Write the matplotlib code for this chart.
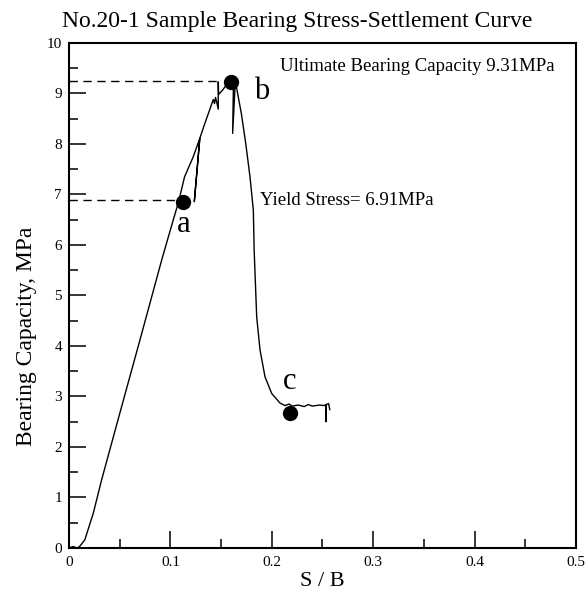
import matplotlib
matplotlib.use("Agg")
import matplotlib.pyplot as plt
from matplotlib.ticker import MultipleLocator

plt.rcParams['font.family'] = ['Liberation Serif', 'DejaVu Serif']

# S/B and bearing stress (MPa)
sb = [0.000, 0.004, 0.008, 0.0105, 0.0156, 0.024, 0.0322, 0.050, 0.070, 0.0914,
      0.100, 0.108, 0.114, 0.1226, 0.1290, 0.1236, 0.1290, 0.1330, 0.1423, 0.1435,
      0.1445, 0.1458, 0.1472, 0.1472, 0.1476, 0.1520, 0.1555, 0.1598, 0.1622, 0.1614,
      0.1637, 0.1654, 0.1700, 0.1743, 0.1785, 0.1818, 0.1826, 0.1851, 0.1884, 0.1933,
      0.1999, 0.2081, 0.2130, 0.2170, 0.2200, 0.2260, 0.2320, 0.2360, 0.2400, 0.2470,
      0.2520, 0.2535, 0.2535, 0.2537, 0.2560, 0.2572]
stress = [0.00, 0.03, 0.00, 0.03, 0.16, 0.69, 1.35, 2.66, 4.12, 5.70,
          6.30, 6.85, 7.35, 7.75, 8.11, 6.86, 8.11, 8.35, 8.88, 8.80,
          8.92, 8.82, 8.69, 9.23, 8.98, 9.08, 9.18, 9.24, 9.22, 8.21,
          9.12, 9.10, 8.60, 8.01, 7.35, 6.69, 5.90, 4.58, 3.92, 3.39,
          3.06, 2.87, 2.82, 2.85, 2.81, 2.83, 2.80, 2.84, 2.81, 2.83,
          2.82, 2.84, 2.50, 2.84, 2.86, 2.74]

# marked points a, b, c
pt_labels = ['a', 'b', 'c']
pt_sb = [0.1127, 0.1598, 0.2180]
pt_stress = [6.86, 9.23, 2.67]
label_sb = [0.1127, 0.190, 0.218]
label_stress = [6.40, 9.04, 3.29]

yield_stress = 6.89
ultimate = 9.25

fig = plt.figure(figsize=(5.87, 6.01), dpi=100)
ax = fig.add_axes([0.1175, 0.0882, 0.8638, 0.8403])

ax.plot(sb, stress, color='black', lw=1.0)
ax.plot(pt_sb, pt_stress, 'o', color='black', ms=10)

ax.plot([0, 0.106], [yield_stress, yield_stress], '--', color='black', lw=1.0, dashes=(6, 4))
ax.plot([0, 0.147], [ultimate, ultimate], '--', color='black', lw=1.0, dashes=(6, 4))

for lab, x, y in zip(pt_labels, label_sb, label_stress):
    ax.text(x, y, lab, fontsize=22, ha='center', va='center')
ax.text(0.208, 9.53, 'Ultimate Bearing Capacity 9.31MPa', fontsize=13.5, ha='left', va='center')
ax.text(0.188, 6.89, 'Yield Stress= 6.91MPa', fontsize=13.5, ha='left', va='center')

ax.set_xlim(0, 0.5)
ax.set_ylim(0, 10)
ax.xaxis.set_major_locator(MultipleLocator(0.1))
ax.xaxis.set_minor_locator(MultipleLocator(0.05))
ax.yaxis.set_major_locator(MultipleLocator(1))
ax.yaxis.set_minor_locator(MultipleLocator(0.5))
ax.xaxis.set_major_formatter(plt.FuncFormatter(lambda v, p: '0' if v == 0 else '%g' % v))
ax.tick_params(which='major', direction='in', length=12, width=1.1, labelsize=11, pad=6)
ax.tick_params(which='minor', direction='in', length=6.5, width=1.1)
ax.tick_params(axis='y', pad=5)
for s in ax.spines.values():
    s.set_linewidth(1.5)

ax.set_xlabel('S / B', fontsize=16, labelpad=2)
fig.text(0.045, 0.44, 'Bearing Capacity, MPa', fontsize=17, rotation=90, ha='center', va='center')
fig.text(0.507, 0.965, 'No.20-1 Sample Bearing Stress-Settlement Curve', fontsize=17, ha='center', va='center')

plt.savefig('out.png', dpi=100)
